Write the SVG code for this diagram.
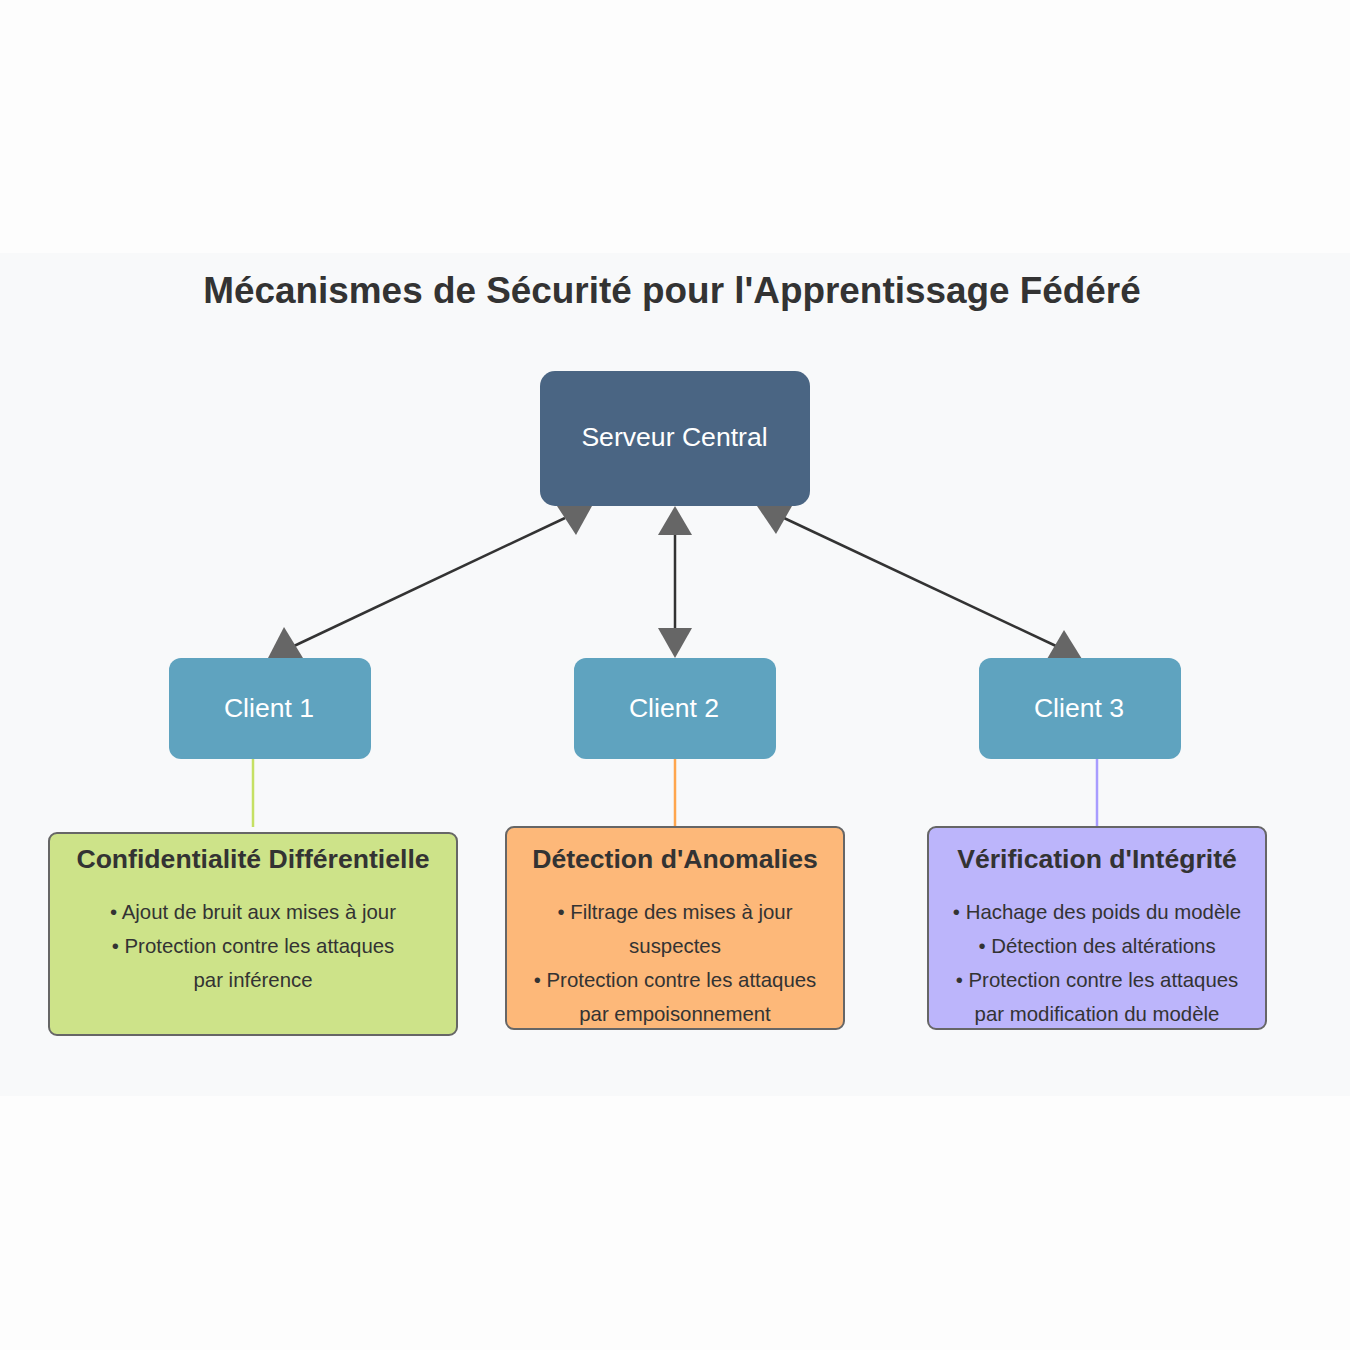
<svg xmlns="http://www.w3.org/2000/svg" width="1350" height="1350" viewBox="0 0 1350 1350">
<style>
.title{font-family:"Liberation Sans",Arial,sans-serif;font-weight:bold;font-size:36.9px;fill:#333;text-anchor:middle}
.ntext{font-family:"Liberation Sans",Arial,sans-serif;font-size:26.6px;fill:#fff;text-anchor:middle}
.btitle{font-family:"Liberation Sans",Arial,sans-serif;font-weight:bold;font-size:26.6px;fill:#333;text-anchor:middle}
.btext{font-family:"Liberation Sans",Arial,sans-serif;font-size:20.4px;fill:#333;text-anchor:middle}
.client{fill:#5fa3bf}
.box{stroke:#666;stroke-width:2}
.link{stroke:#333;stroke-width:2.5;fill:none}
.head{fill:#666}
</style>
<rect x="0" y="0" width="1350" height="1350" fill="#fdfdfd"/>
<rect x="0" y="253" width="1350" height="843" fill="#f8f9fa"/>
<text class="title" x="672" y="303">Mécanismes de Sécurité pour l'Apprentissage Fédéré</text>

<g id="connectors">
<line class="link" x1="565" y1="518" x2="294" y2="646"/>
<line class="link" x1="675" y1="532" x2="675" y2="630"/>
<line class="link" x1="784" y1="518" x2="1056" y2="646"/>
<polygon class="head" points="557,506 592,506 576,535"/>
<polygon class="head" points="658,535 692,535 675,506"/>
<polygon class="head" points="757,506 792,506 776,534"/>
<polygon class="head" points="268,658 303,658 284,627"/>
<polygon class="head" points="658,628 692,628 675,658"/>
<polygon class="head" points="1047,659 1082,659 1064,630"/>
<line x1="253" y1="759" x2="253" y2="827" stroke="#c5e063" stroke-width="2.5"/>
<line x1="675" y1="759" x2="675" y2="827" stroke="#ffa64d" stroke-width="2.5"/>
<line x1="1097" y1="759" x2="1097" y2="827" stroke="#a89cff" stroke-width="2.5"/>
</g>

<g id="server">
<rect x="540" y="371" width="270" height="135" rx="15" fill="#4a6583"/>
<text class="ntext" x="674.5" y="446">Serveur Central</text>
</g>
<g id="client1">
<rect class="client" x="169" y="658" width="202" height="101" rx="12"/>
<text class="ntext" x="269" y="717">Client 1</text>
</g>
<g id="client2">
<rect class="client" x="574" y="658" width="202" height="101" rx="12"/>
<text class="ntext" x="674" y="717">Client 2</text>
</g>
<g id="client3">
<rect class="client" x="979" y="658" width="202" height="101" rx="12"/>
<text class="ntext" x="1079" y="717">Client 3</text>
</g>

<g id="box-dp">
<rect class="box" x="49" y="833" width="408" height="202" rx="8" fill="#cde389"/>
<text class="btitle" x="253" y="868">Confidentialité Différentielle</text>
<text class="btext" x="253" y="919">• Ajout de bruit aux mises à jour</text>
<text class="btext" x="253" y="953">• Protection contre les attaques</text>
<text class="btext" x="253" y="987">par inférence</text>
</g>
<g id="box-anomalies">
<rect class="box" x="506" y="827" width="338" height="202" rx="8" fill="#fdb879"/>
<text class="btitle" x="675" y="868">Détection d'Anomalies</text>
<text class="btext" x="675" y="919">• Filtrage des mises à jour</text>
<text class="btext" x="675" y="953">suspectes</text>
<text class="btext" x="675" y="987">• Protection contre les attaques</text>
<text class="btext" x="675" y="1021">par empoisonnement</text>
</g>
<g id="box-integrite">
<rect class="box" x="928" y="827" width="338" height="202" rx="8" fill="#bcb5fb"/>
<text class="btitle" x="1097" y="868">Vérification d'Intégrité</text>
<text class="btext" x="1097" y="919">• Hachage des poids du modèle</text>
<text class="btext" x="1097" y="953">• Détection des altérations</text>
<text class="btext" x="1097" y="987">• Protection contre les attaques</text>
<text class="btext" x="1097" y="1021">par modification du modèle</text>
</g>
</svg>
